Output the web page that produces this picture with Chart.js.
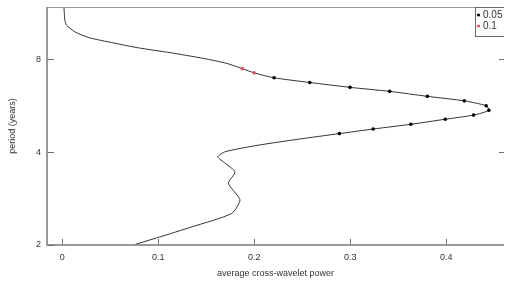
<!DOCTYPE html>
<html>
<head>
<meta charset="utf-8">
<script src="https://cdn.jsdelivr.net/npm/chart.js@4/dist/chart.umd.min.js"></script>
<style>
    html, body { margin: 0; padding: 0; background: #fff; }
    #wrap { width: 508px; height: 289px; }
</style>
</head>
<body>
<div id="wrap"><canvas id="chart"></canvas></div>
<script>
// average cross-wavelet power by period (years), read from top to bottom
var periods = [12.0, 10.70, 10.31, 9.81, 9.41, 9.15, 8.71, 8.39, 8.04, 7.75,
    7.45, 7.22, 6.96, 6.72, 6.48, 6.29, 6.06, 5.86, 5.65, 5.46, 5.27, 5.11,
    4.92, 4.75, 4.59, 4.40, 4.21, 4.01, 3.86, 3.68, 3.45, 3.17, 2.80, 2.53,
    2.29, 2.12, 1.99];
var power = [0.0015, 0.0026, 0.0043, 0.0129, 0.0267, 0.0439, 0.0783, 0.1128, 0.1472, 0.1713,
    0.1875, 0.1999, 0.2206, 0.2578, 0.2998, 0.3411, 0.3804, 0.4189, 0.4416, 0.4444, 0.4285, 0.3990,
    0.3631, 0.3239, 0.2887, 0.2454, 0.2040, 0.1696, 0.1620, 0.1696, 0.1800, 0.1730, 0.1851, 0.1764,
    0.1351, 0.1007, 0.0715];

// significant at 0.05
var sig05Periods = [6.96, 6.72, 6.48, 6.29, 6.06, 5.86, 5.65, 5.46, 5.27, 5.11, 4.92, 4.75, 4.59];
var sig05Power = [0.2206, 0.2578, 0.2998, 0.3411, 0.3804, 0.4189, 0.4416, 0.4444, 0.4285, 0.3990, 0.3631, 0.3239, 0.2887];

// significant at 0.1
var sig10Periods = [7.45, 7.22];
var sig10Power = [0.1875, 0.1999];

var xTicks = [0, 0.1, 0.2, 0.3, 0.4];
var yTicks = [2, 4, 8];
var yTicksRight = [4, 8];

var legendLabels = ['0.05', '0.1'];
var legendColors = ['#000000', '#DF536B'];

function toPoints(xs, ys) {
    return xs.map(function (x, i) { return { x: x, y: ys[i] }; });
}

var fontName = '"Liberation Sans", Arial, sans-serif';
var frameColor = '#999999';
var tickColor = '#707070';
var textColor = '#333333';

// frame, inward ticks and the legend box
var framePlugin = {
    id: 'frame',
    afterDraw: function (chart) {
        var ctx = chart.ctx;
        var a = chart.chartArea;
        var xs = chart.scales.x;
        var ys = chart.scales.y;
        var l = Math.round(a.left), t = Math.round(a.top);
        var r = Math.round(a.right), b = Math.round(a.bottom);
        ctx.save();
        ctx.fillStyle = frameColor;
        ctx.fillRect(l - 1, t, r - l + 1, 1);
        ctx.fillRect(l - 1, t, 2, b - t + 1);
        ctx.fillRect(l - 1, b - 1, r - l + 1, 2);

        ctx.fillStyle = tickColor;
        xTicks.forEach(function (v) {
            var px = Math.round(xs.getPixelForValue(v));
            ctx.fillRect(px, b - 6, 1, 5);
        });
        yTicks.forEach(function (v) {
            var py = Math.round(ys.getPixelForValue(v));
            ctx.fillRect(l + 1, py, 6, 1);
        });
        yTicksRight.forEach(function (v) {
            var py = Math.round(ys.getPixelForValue(v));
            ctx.fillRect(r - 5, py, 5, 1);
        });

        // legend
        var bx = 475, bh = 29;
        ctx.fillStyle = '#fff';
        ctx.fillRect(bx, t + 1, r - bx, bh - 1);
        ctx.fillStyle = '#666';
        ctx.fillRect(bx, t, r - bx, 1);
        ctx.fillRect(bx, t, 1, bh + 1);
        ctx.fillRect(bx, t + bh, r - bx, 1);
        ctx.font = '10px ' + fontName;
        ctx.textBaseline = 'middle';
        legendLabels.forEach(function (lab, i) {
            var ly = 15 + i * 11;
            ctx.fillStyle = legendColors[i];
            ctx.beginPath();
            ctx.arc(478.5, ly, 1.6, 0, Math.PI * 2);
            ctx.fill();
            ctx.fillStyle = textColor;
            ctx.fillText(lab, 483, ly + 0.5);
        });
        ctx.restore();
    }
};

var ctx = document.getElementById('chart').getContext('2d');
var chart = new Chart(ctx, {
    type: 'scatter',
    data: {
        datasets: [{
            label: 'power',
            data: toPoints(power, periods),
            showLine: true,
            borderColor: '#333333',
            borderWidth: 1,
            tension: 0.2,
            pointRadius: 0,
            order: 3
        }, {
            label: legendLabels[0],
            data: toPoints(sig05Power, sig05Periods),
            showLine: false,
            pointRadius: 1.8,
            pointBackgroundColor: legendColors[0],
            pointBorderWidth: 0,
            order: 1
        }, {
            label: legendLabels[1],
            data: toPoints(sig10Power, sig10Periods),
            showLine: false,
            pointRadius: 1.8,
            pointBackgroundColor: legendColors[1],
            pointBorderWidth: 0,
            order: 2
        }]
    },
    options: {
        responsive: true,
        maintainAspectRatio: false,
        animation: false,
        layout: { padding: { top: 7, right: 0, left: 0, bottom: 0 } },
        plugins: {
            legend: { display: false },
            tooltip: { enabled: false }
        },
        scales: {
            x: {
                type: 'linear',
                min: -0.016,
                max: 0.4602,
                grid: { display: false, drawTicks: false },
                border: { display: false },
                afterBuildTicks: function (s) {
                    s.ticks = xTicks.map(function (v) { return { value: v }; });
                },
                afterFit: function (s) {
                    s.height = 44;
                    s.paddingLeft = 0;
                    s.paddingRight = 0;
                },
                ticks: {
                    padding: 7,
                    color: textColor,
                    font: { family: fontName, size: 9 },
                    maxRotation: 0,
                    callback: function (v) { return String(v); }
                },
                title: {
                    display: true,
                    text: 'average cross-wavelet power',
                    color: textColor,
                    font: { family: fontName, size: 9 },
                    padding: { top: 0, bottom: 10 }
                }
            },
            y: {
                type: 'logarithmic',
                min: 2,
                max: 11.8,
                grid: { display: false, drawTicks: false },
                border: { display: false },
                afterBuildTicks: function (s) {
                    s.ticks = yTicks.map(function (v) { return { value: v }; });
                },
                afterFit: function (s) {
                    s.width = 47;
                    s.paddingTop = 0;
                    s.paddingBottom = 0;
                },
                ticks: {
                    padding: 6,
                    color: textColor,
                    font: { family: fontName, size: 9 },
                    callback: function (v) { return String(v); }
                },
                title: {
                    display: true,
                    text: 'period (years)',
                    color: textColor,
                    font: { family: fontName, size: 9 },
                    padding: { top: 7, bottom: 0 }
                }
            }
        }
    },
    plugins: [framePlugin]
});
</script>
</body>
</html>
